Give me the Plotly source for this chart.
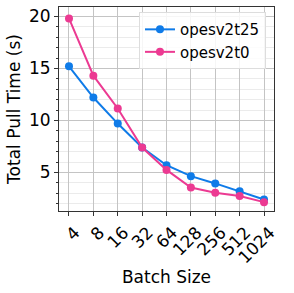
import numpy as np
import plotly.graph_objects as go

batch_sizes = [4, 8, 16, 32, 64, 128, 256, 512, 1024]
tick_labels = ["4", "8", "16", "32", "64", "128", "256", "512", "1024"]
opesv2t25 = [15.2, 12.2, 9.7, 7.4, 5.7, 4.65, 3.95, 3.2, 2.4]
opesv2t0 = [19.8, 14.3, 11.15, 7.4, 5.25, 3.55, 3.05, 2.75, 2.15]

BLUE = "#0F7BE8"
PINK = "#EC3A92"
FONT = "DejaVu Sans"

fig = go.Figure()
fig.add_trace(go.Scatter(x=batch_sizes, y=opesv2t25, mode="lines+markers", name="opesv2t25",
                         line=dict(color=BLUE, width=2), marker=dict(color=BLUE, size=8)))
fig.add_trace(go.Scatter(x=batch_sizes, y=opesv2t0, mode="lines+markers", name="opesv2t0",
                         line=dict(color=PINK, width=2), marker=dict(color=PINK, size=8)))

pad = 0.41 * np.log10(2)
fig.update_layout(
    width=294, height=293,
    margin=dict(l=59, r=20, t=7, b=82),
    plot_bgcolor="white", paper_bgcolor="white",
    font=dict(family=FONT, size=17, color="black"),
    showlegend=True,
    legend=dict(x=0.372, y=0.975, xanchor="left", yanchor="top",
                bgcolor="rgba(255,255,255,0.85)", bordercolor="#dddddd", borderwidth=1,
                font=dict(size=15, family=FONT), itemwidth=30, tracegroupgap=0),
    xaxis=dict(type="log", range=[np.log10(batch_sizes[0]) - pad, np.log10(batch_sizes[-1]) + pad],
               tickvals=batch_sizes, ticktext=tick_labels, tickangle=-45,
               ticklabelshift=6, automargin=False,
               showgrid=True, gridcolor="#c4c4c4", gridwidth=1,
               ticks="outside", ticklen=4, tickcolor="#333",
               showline=True, linecolor="#333", linewidth=1, mirror=True,
               title=dict(text="Batch Size", font=dict(size=17), standoff=4),
               zeroline=False),
    yaxis=dict(range=[1.3, 20.9], tickvals=[5, 10, 15, 20], automargin=False,
               showgrid=True, gridcolor="#c4c4c4", gridwidth=1,
               minor=dict(dtick=1, showgrid=True, gridcolor="#ebebeb", ticks="outside", ticklen=2, tickcolor="#333"),
               ticks="outside", ticklen=4, tickcolor="#333",
               showline=True, linecolor="#333", linewidth=1, mirror=True,
               title=dict(text="Total Pull Time (s)", font=dict(size=17), standoff=4),
               zeroline=False),
)

fig.write_html("out.html", config={"displayModeBar": False},
               post_script="document.body.style.margin='0';")
